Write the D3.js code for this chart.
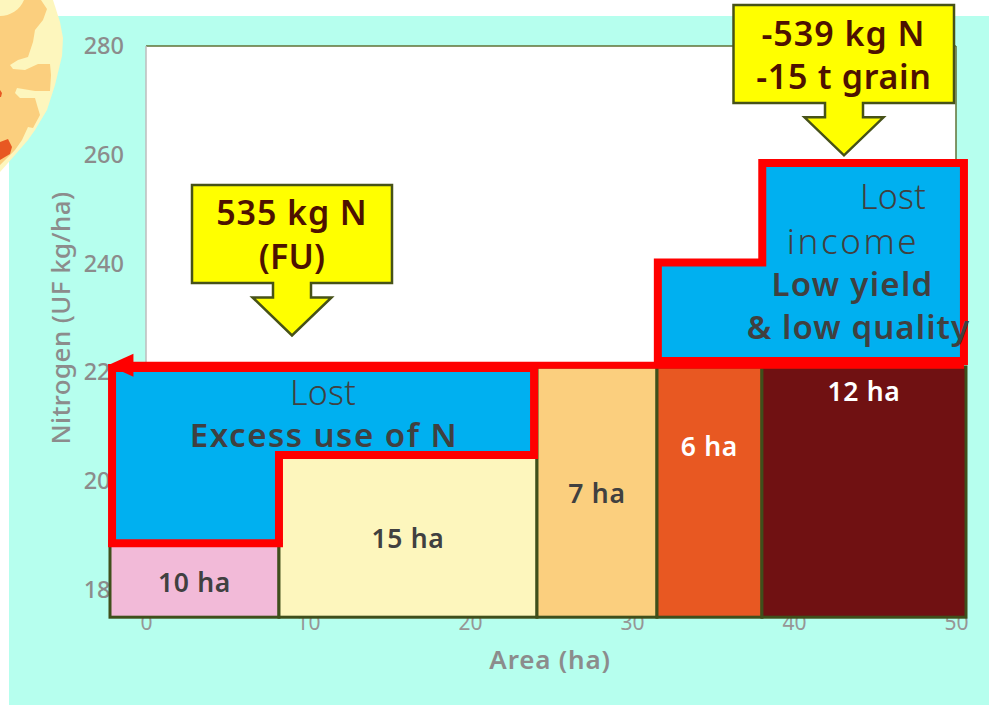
<!DOCTYPE html>
<html><head><meta charset="utf-8">
<style>html,body{margin:0;padding:0;background:#fff}svg{display:block}text{font-family:"Noto Sans",sans-serif}</style>
<script src="https://cdn.jsdelivr.net/npm/d3@7"></script>
</head><body><svg id="c" width="989" height="705"></svg>
<script>
const barLabels=["10 ha","15 ha","7 ha","6 ha","12 ha"];
const barStarts=[0,9.87,24.94,31.95,38.08];
const barEnds=[9.87,24.94,31.95,38.08,50];
const barTops=[189,205,221,221,221];
const barColors=["#f2bad8","#fdf6bd","#fbcf7e","#e85822","#701112"];
const barLabelColors=["#404040","#404040","#404040","#ffffff","#ffffff"];
const barLabelLevels=[181.5,189.5,197.8,206.5,216.5];
const barBase=175;
const yTicks=[180,200,220,240,260,280];
const xTicks=[0,10,20,30,40,50];
const excessArea=[[0.12,220.8],[24.77,220.8],[24.77,204.8],[9.87,204.8],[9.87,188.6],[0.12,188.6]];
const lostArea=[[32,222.1],[32,240.2],[38.1,240.2],[38.1,258.5],[49.88,258.5],[49.88,222.1]];
const supplyLine=[[49.88,221.3],[-0.12,221.3]];

const svg=d3.select("#c");
const x=d3.scaleLinear().domain([0,50]).range([146,956]);
const y=d3.scaleLinear().domain([180,280]).range([590,46]);
const xa=d3.scaleLinear().domain([0,50]).range([110,966]);
const areaLine=d3.line().x(d=>xa(d[0])).y(d=>y(d[1])).curve(d3.curveLinearClosed);

svg.append("rect").attr("x",9).attr("y",16).attr("width",980).attr("height",689).attr("fill","#b6ffee");

// decorative map corner
svg.append("path").attr("fill","#fdf6bd").attr("d","M0,0L53,0L60,22L63,38L62,56L55,85L47,110L35,130L28,140L15,155L0,172Z");
svg.append("path").attr("fill","#fbcf7e").attr("d","M0,16C10,16 20,10 24,0L41,0L47,9L43,20L35,30L33,42L28,57L18,60L10,65L13,69L25,70L38,64L50,64L51,75L50,91L35,91L17,88L15,93L20,98L35,98L37,105L40,115L33,128L28,127L22,140L15,150L0,165Z");
svg.append("path").attr("fill","#e85822").attr("d","M0,142L8,139L12,147L10,154L0,160Z");
svg.append("path").attr("fill","#e85822").attr("d","M0,90L2,93L1,97L0,97Z");

// plot frame
svg.append("rect").attr("x",x(0)).attr("y",y(280)).attr("width",x(50)-x(0)).attr("height",y(220)-y(280)).attr("fill","#fff");
svg.append("line").attr("x1",x(0)).attr("x2",x(50)).attr("y1",y(280)).attr("y2",y(280)).attr("stroke","#5f7236").attr("stroke-width",1.5);
svg.append("line").attr("x1",x(0)).attr("x2",x(0)).attr("y1",y(280)).attr("y2",y(220)).attr("stroke","#bdbdbd").attr("stroke-width",1.5);
svg.append("line").attr("x1",x(50)).attr("x2",x(50)).attr("y1",y(280)).attr("y2",y(220)).attr("stroke","#5f7236").attr("stroke-width",1.5);

// axes
const ga=svg.append("g").attr("transform",`translate(${x(0)},0)`)
 .call(d3.axisLeft(y).tickValues(yTicks).tickSize(0).tickPadding(22).tickFormat(d3.format("d")));
ga.select(".domain").remove();
ga.selectAll("text").attr("fill","#8c8c8c").style("font-size","23.5px").style("font-weight",500);
const gb=svg.append("g").attr("transform",`translate(0,610)`)
 .call(d3.axisBottom(x).tickValues(xTicks).tickSize(0).tickPadding(0).tickFormat(d3.format("d")));
gb.select(".domain").remove();
gb.selectAll("text").attr("fill","#969696").style("font-size","21px").attr("y",0).attr("dy","20px");
svg.append("text").attr("x",550).attr("y",669).attr("text-anchor","middle").attr("fill","#8c8c8c").style("font-size","26px").style("font-weight",600).style("letter-spacing","0.8px").text("Area (ha)");
svg.append("text").attr("transform","translate(70,318) rotate(-90)").attr("text-anchor","middle").attr("fill","#8c8c8c").style("font-size","26px").style("font-weight",500).style("letter-spacing","0.4px").text("Nitrogen (UF kg/ha)");

// bars
svg.append("g").selectAll("rect").data(barStarts).join("rect")
 .attr("x",d=>xa(d)).attr("width",(d,i)=>xa(barEnds[i])-xa(d))
 .attr("y",(d,i)=>y(barTops[i])).attr("height",(d,i)=>y(barBase)-y(barTops[i]))
 .attr("fill",(d,i)=>barColors[i]).attr("stroke","#3f4f1b").attr("stroke-width",3);
svg.append("g").selectAll("text").data(barLabels).join("text")
 .attr("x",(d,i)=>xa((barStarts[i]+barEnds[i])/2)).attr("y",(d,i)=>y(barLabelLevels[i]))
 .attr("text-anchor","middle").attr("dominant-baseline","central")
 .attr("fill",(d,i)=>barLabelColors[i]).style("font-size","26.5px").style("font-weight",600).style("letter-spacing","0.7px").text(d=>d);

// lost areas
[excessArea,lostArea].forEach(a=>svg.append("path").attr("d",areaLine(a)).attr("fill","#00b0f0").attr("stroke","#ff0000").attr("stroke-width",8).attr("stroke-linejoin","miter"));
svg.append("line").attr("x1",xa(supplyLine[0][0])).attr("x2",xa(supplyLine[1][0])+20).attr("y1",y(supplyLine[0][1])).attr("y2",y(supplyLine[1][1])).attr("stroke","#ff0000").attr("stroke-width",7);
const tipX=xa(supplyLine[1][0]), tipY=y(supplyLine[1][1]);
svg.append("path").attr("fill","#ff0000").attr("d",`M${tipX},${tipY}L${tipX+25.5},${tipY-11.5}L${tipX+25.5},${tipY+11.5}Z`);

const lostText=[
 ["Lost",323,392,300,34,0.2],["Excess use of N",324,434.5,600,33,1.5],
 ["Lost",893,196,300,34,0.2],["income",853,240,300,35,2.6],["Low yield",852.5,283,600,33,1.3],["& low quality",858.5,326,600,33,1.1]];
svg.append("g").selectAll("text").data(lostText).join("text")
 .attr("x",d=>d[1]).attr("y",d=>d[2]).attr("text-anchor","middle").attr("dominant-baseline","central")
 .attr("fill","#404040").style("font-size",d=>d[4]+"px").style("font-weight",d=>d[3]).style("letter-spacing",d=>d[5]+"px").text(d=>d[0]);

// callouts: box + down arrow
function callout(bx0,bx1,by0,by1,cx,tipLevel,lines){
 const tip=y(tipLevel);
 const hw=39.5, sw=19, headTop=tip-38;
 svg.append("path").attr("fill","#ffff00").attr("stroke","#475218").attr("stroke-width",2.5).attr("stroke-linejoin","miter")
  .attr("d",`M${bx0},${by0}H${bx1}V${by1}H${cx+sw}V${headTop}H${cx+hw}L${cx},${tip}L${cx-hw},${headTop}H${cx-sw}V${by1}H${bx0}Z`);
 lines.forEach(l=>svg.append("text").attr("x",l[1]).attr("y",l[2]).attr("text-anchor","middle").attr("dominant-baseline","central")
  .attr("fill","#4d1100").style("font-size","34px").style("font-weight",600).style("letter-spacing",l[3]+"px").text(l[0]));
}
callout(192,392,185,283,292,226.8,[["535 kg N",292,212,0.9],["(FU)",292,256,0.2]]);
callout(733.5,954,5,103,844,259.9,[["-539 kg N",843.5,32.5,1],["-15 t grain",844,75.5,0.7]]);
</script></body></html>
